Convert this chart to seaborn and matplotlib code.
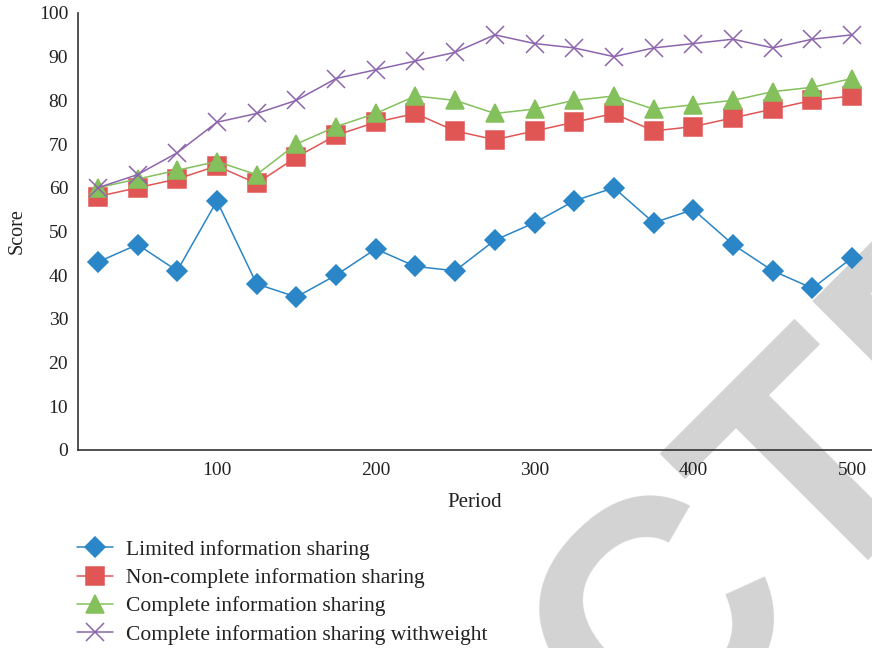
import numpy as np
import pandas as pd
import seaborn as sns
import matplotlib.pyplot as plt

# ---------------- data ----------------
periods = [25, 50, 75, 100, 125, 150, 175, 200, 225, 250,
           275, 300, 325, 350, 375, 400, 425, 450, 475, 500]

limited = [43, 47, 41, 57, 38, 35, 40, 46, 42, 41,
           48, 52, 57, 60, 52, 55, 47, 41, 37, 44]
non_complete = [58, 60, 62, 65, 61, 67, 72, 75, 77, 73,
                71, 73, 75, 77, 73, 74, 76, 78, 80, 81]
complete = [60, 62, 64, 66, 63, 70, 74, 77, 81, 80,
            77, 78, 80, 81, 78, 79, 80, 82, 83, 85]
complete_weight = [60, 63, 68, 75, 77, 80, 85, 87, 89, 91,
                   95, 93, 92, 90, 92, 93, 94, 92, 94, 95]

series_names = ['Limited information sharing',
                'Non-complete information sharing',
                'Complete information sharing',
                'Complete information sharing withweight']

# ---------------- style ----------------
sns.set_style('white')
plt.rcParams['font.family'] = ['Liberation Serif', 'DejaVu Serif']

colors = ['#2a86c6', '#e05655', '#84c05c', '#8c65ad']
markers = ['D', 's', '^', 'x']
msizes = [10, 12.5, 13, 13]

fig = plt.figure(figsize=(8.72, 6.48), dpi=100)
ax = fig.add_axes([0.0894, 0.3056, 0.9106, 0.6744])
ax.patch.set_alpha(0)

# big grey watermark behind the plot
fig.text(-0.166, -1.393, 'RETRACTED', fontsize=233, fontweight='bold',
         family='Liberation Sans', color='#d3d3d3', rotation=45,
         rotation_mode='anchor', ha='left', va='baseline', zorder=-5)

data = pd.DataFrame({'Period': periods})
for name, vals in zip(series_names, [limited, non_complete, complete, complete_weight]):
    data[name] = vals

handles = []
for name, c, m, ms in zip(series_names, colors, markers, msizes):
    sns.lineplot(data=data, x='Period', y=name, ax=ax, color=c, marker=m,
                 markersize=ms, markeredgecolor=c, markeredgewidth=1.1,
                 linewidth=1.1, label=name, legend=False)
    handles.append(ax.lines[-1])

ax.set_xlim(12.5, 512.5)
ax.set_ylim(0, 100)
ax.set_xticks([100, 200, 300, 400, 500])
ax.set_yticks(np.arange(0, 101, 10))

for side in ['top', 'right']:
    ax.spines[side].set_visible(False)
for side in ['left', 'bottom']:
    ax.spines[side].set_color('#333333')
    ax.spines[side].set_linewidth(1.2)

ax.tick_params(axis='both', length=0, labelsize=14, colors='#222222')
ax.tick_params(axis='y', pad=7)
ax.tick_params(axis='x', pad=9)

ax.set_xlabel('Period', fontsize=15, color='#222222', labelpad=10)
ax.set_ylabel('Score', fontsize=14.5, color='#222222', labelpad=9)

fig.legend(handles, series_names, loc='upper left',
           bbox_to_anchor=(0.0883, 0.167), frameon=False, fontsize=15.5,
           borderpad=0, borderaxespad=0, handlelength=1.68,
           handletextpad=0.6, labelspacing=0.38, numpoints=1,
           labelcolor='#222222')

fig.savefig('out.png', dpi=100)
